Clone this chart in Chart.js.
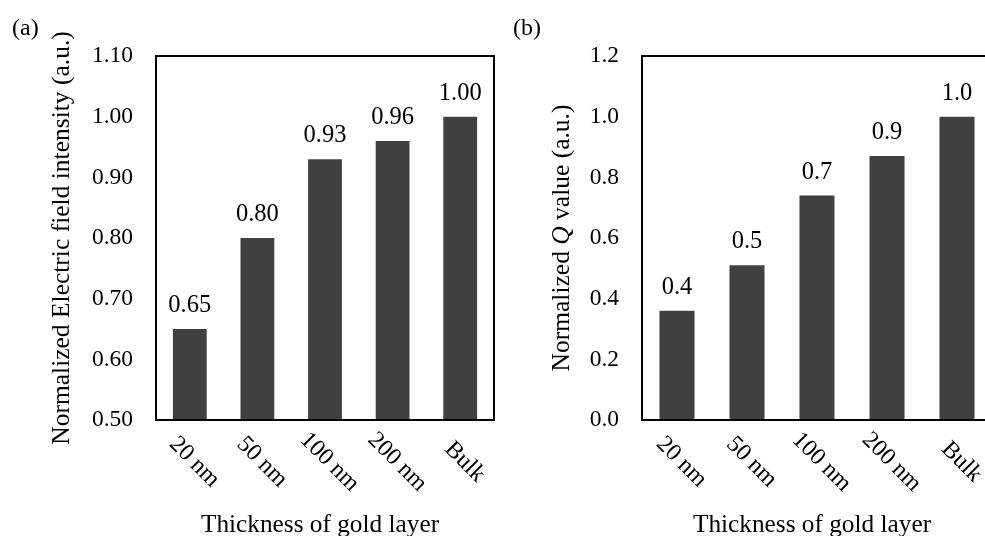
<!DOCTYPE html>
<html>
<head>
<meta charset="utf-8">
<script src="https://cdn.jsdelivr.net/npm/chart.js@4.4.0/dist/chart.umd.min.js"></script>
<style>
html, body { margin: 0; padding: 0; background: #fff; overflow: hidden; width: 985px; height: 536px; }
.panel { position: absolute; top: 0; }
.tag { position: absolute; font-family: "Liberation Serif"; font-size: 24px; color: #000; line-height: 1; }
</style>
</head>
<body>
<div class="panel" style="left:0"><canvas id="chartA" width="500" height="536"></canvas></div>
<div class="panel" style="left:500px"><canvas id="chartB" width="495" height="536"></canvas></div>
<div class="tag" style="left:12px;top:15px">(a)</div>
<div class="tag" style="left:513px;top:15px">(b)</div>
<script>

const categories = ['20 nm', '50 nm', '100 nm', '200 nm', 'Bulk']
const fieldIntensity = [0.65, 0.80, 0.93, 0.96, 1.00]
const qValues = [0.36, 0.51, 0.74, 0.87, 1.00]
const fieldTicks = [0.50, 0.60, 0.70, 0.80, 0.90, 1.00, 1.10]
const qTicks = [0.0, 0.2, 0.4, 0.6, 0.8, 1.0, 1.2]

const SERIF = '"Liberation Serif", "Times New Roman", serif'
const BAR = '#404040'

// frame, value labels, rotated category labels and axis titles
const decorPlugin = {
    id: 'decor',
    afterDatasetsDraw(chart, args, opts) {
        const { ctx, chartArea: a, scales: { x } } = chart
        ctx.save()
        ctx.strokeStyle = '#000'
        ctx.lineWidth = 2
        ctx.strokeRect(a.left, a.top, a.right - a.left, a.bottom - a.top)

        ctx.fillStyle = '#000'
        ctx.font = '24.5px ' + SERIF
        ctx.textAlign = 'center'
        ctx.textBaseline = 'alphabetic'
        const values = chart.data.datasets[0].data
        chart.getDatasetMeta(0).data.forEach((bar, i) => {
            ctx.fillText(values[i].toFixed(opts.digits), bar.x, bar.y - 17)
        })

        ctx.font = '24px ' + SERIF
        ctx.textBaseline = 'middle'
        chart.data.labels.forEach((lab, i) => {
            ctx.save()
            ctx.translate(x.getPixelForTick(i) + 4.5, 462)
            ctx.rotate(Math.PI / 4)
            ctx.fillText(lab, 0, 0)
            ctx.restore()
        })

        ctx.font = '25.3px ' + SERIF
        ctx.textBaseline = 'alphabetic'
        ctx.fillText('Thickness of gold layer', (a.left + a.right) / 2 - 5, 532)

        // y title, may contain italic parts
        const parts = opts.yTitle
        const fonts = parts.map(p => (p[1] ? 'italic ' : '') + '25.5px ' + SERIF)
        let total = 0
        const widths = parts.map((p, i) => { ctx.font = fonts[i]; const w = ctx.measureText(p[0]).width; total += w; return w })
        ctx.save()
        ctx.translate(opts.titleX, (a.top + a.bottom) / 2)
        ctx.rotate(-Math.PI / 2)
        ctx.textAlign = 'left'
        ctx.textBaseline = 'middle'
        let pos = -total / 2
        parts.forEach((p, i) => {
            ctx.font = fonts[i]
            ctx.fillText(p[0], pos, 0)
            pos += widths[i]
        })
        ctx.restore()
        ctx.restore()
    }
}

const makeChart = (id, values, ticks, digits, yWidth, padRight, yTitle) => {
    return new Chart(document.getElementById(id), {
        type: 'bar',
        data: {
            labels: categories,
            datasets: [{
                data: values,
                backgroundColor: BAR,
                borderWidth: 0,
                categoryPercentage: 1,
                barPercentage: 0.5
            }]
        },
        options: {
            responsive: false,
            animation: false,
            layout: { padding: { top: 56, right: padRight, left: 0, bottom: 0 } },
            plugins: {
                legend: { display: false },
                tooltip: { enabled: false },
                decor: { digits: digits, yTitle: yTitle, titleX: 62 }
            },
            scales: {
                x: {
                    grid: { display: false, drawTicks: false },
                    border: { display: false },
                    ticks: { display: false },
                    afterFit: s => { s.height = 116 }
                },
                y: {
                    min: ticks[0],
                    max: ticks[ticks.length - 1],
                    grid: { display: false, drawTicks: false },
                    border: { display: false },
                    afterBuildTicks: s => { s.ticks = ticks.map(v => ({ value: v })) },
                    afterFit: s => { s.width = yWidth },
                    ticks: {
                        padding: 23,
                        color: '#000',
                        font: { family: SERIF, size: 23.5 },
                        callback: v => Number(v).toFixed(digits)
                    }
                }
            }
        },
        plugins: [decorPlugin]
    })
}

makeChart('chartA', fieldIntensity, fieldTicks, 2, 156, 6,
    [['Normalized Electric field intensity (a.u.)', false]])
makeChart('chartB', qValues, qTicks, 1, 142, 3,
    [['Normalized ', false], ['Q', true], [' value (a.u.)', false]])

</script>
</body>
</html>
